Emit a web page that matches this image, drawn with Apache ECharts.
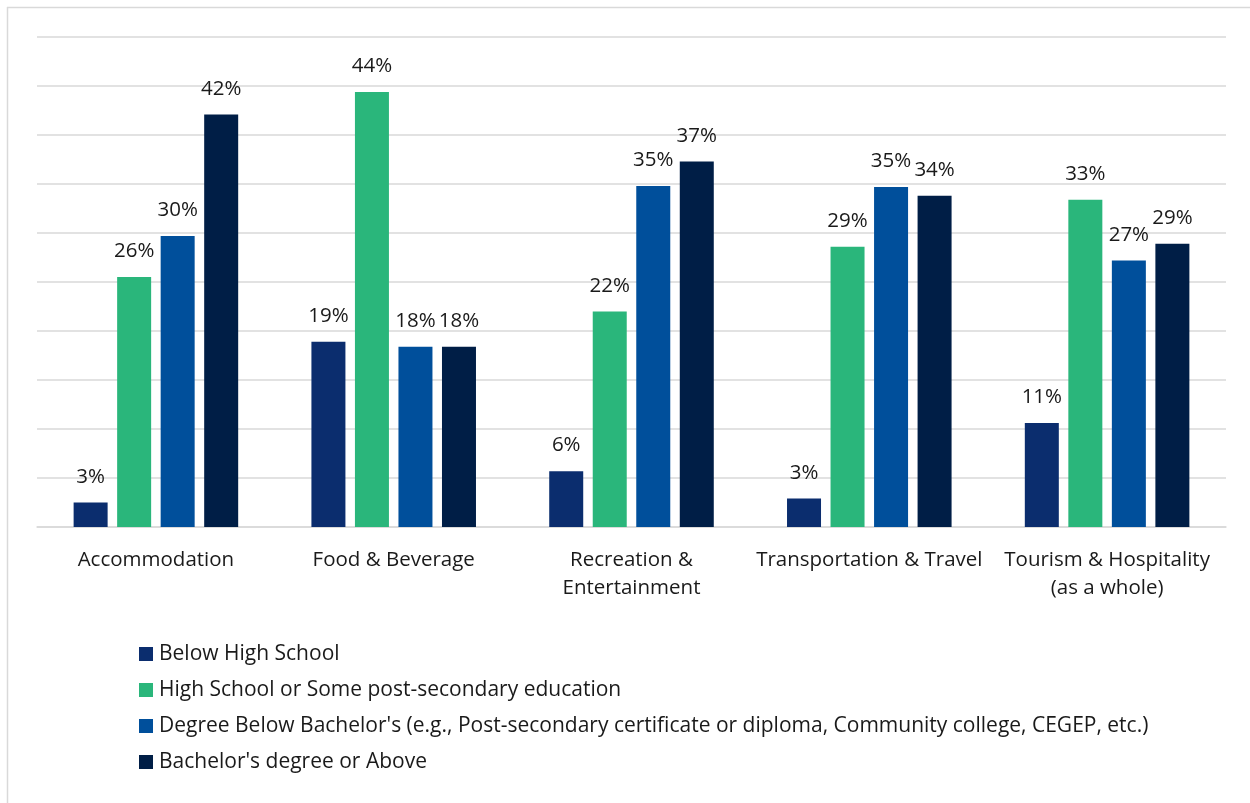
<!DOCTYPE html>
<html>
<head>
<meta charset="utf-8">
<script src="https://cdn.jsdelivr.net/npm/echarts@6/dist/echarts.min.js"></script>
<style>
  html, body { margin: 0; padding: 0; background: #fff; }
  #main { width: 1250px; height: 803px; }
</style>
</head>
<body>
<div id="main"></div>
<script>
const categories = ['Accommodation', 'Food & Beverage', 'Recreation &\nEntertainment', 'Transportation & Travel', 'Tourism & Hospitality\n(as a whole)'];
const seriesNames = [
  'Below High School',
  'High School or Some post-secondary education',
  "Degree Below Bachelor's (e.g., Post-secondary certificate or diploma, Community college, CEGEP, etc.)",
  "Bachelor's degree or Above"
];
const belowHighSchool = [2.5, 18.9, 5.7, 2.9, 10.6];
const highSchool = [25.5, 44.4, 22.0, 28.6, 33.4];
const degreeBelowBachelor = [29.7, 18.4, 34.8, 34.7, 27.2];
const bachelorOrAbove = [42.1, 18.4, 37.3, 33.8, 28.9];
const colors = ['#0B2D6E', '#2AB67B', '#004F9B', '#001E46'];

const font = '"Open Sans", "Noto Sans", sans-serif';
const values = [belowHighSchool, highSchool, degreeBelowBachelor, bachelorOrAbove];

const chart = echarts.init(document.getElementById('main'));
chart.setOption({
  animation: false,
  color: colors,
  textStyle: { fontFamily: font },
  graphic: [
    { type: 'line', shape: { x1: 7, y1: 7.5, x2: 1250, y2: 7.5 }, style: { stroke: '#d9d9d9', lineWidth: 1.5 } },
    { type: 'line', shape: { x1: 7.5, y1: 7, x2: 7.5, y2: 803 }, style: { stroke: '#d9d9d9', lineWidth: 1.5 } }
  ],
  grid: { left: 37, right: 24, top: 37, bottom: 276 },
  legend: {
    orient: 'vertical',
    left: 139,
    top: 643,
    padding: 0,
    itemWidth: 14,
    itemHeight: 14,
    itemGap: 14,
    icon: 'rect',
    textStyle: { fontFamily: font, fontSize: 21, color: '#1a1a1a', lineHeight: 22, padding: [0, 0, 0, 1] },
    data: seriesNames
  },
  xAxis: {
    type: 'category',
    data: categories,
    axisLine: { lineStyle: { color: '#d9d9d9', width: 1.5 } },
    axisTick: { show: false },
    axisLabel: { fontFamily: font, fontSize: 20.5, color: '#1a1a1a', lineHeight: 28, margin: 19, interval: 0 }
  },
  yAxis: {
    type: 'value',
    min: 0,
    max: 50,
    interval: 5,
    axisLabel: { show: false },
    axisLine: { show: false },
    axisTick: { show: false },
    splitLine: { lineStyle: { color: '#d9d9d9', width: 1.5 } }
  },
  series: seriesNames.map((name, i) => ({
    name: name,
    type: 'bar',
    data: values[i],
    barWidth: 34,
    barGap: '28%',
    itemStyle: { color: colors[i] },
    label: {
      show: true,
      position: 'top',
      distance: 15,
      fontFamily: font,
      fontSize: 20.5,
      color: '#1a1a1a',
      formatter: p => Math.round(p.value) + '%'
    }
  }))
});
</script>
</body>
</html>
